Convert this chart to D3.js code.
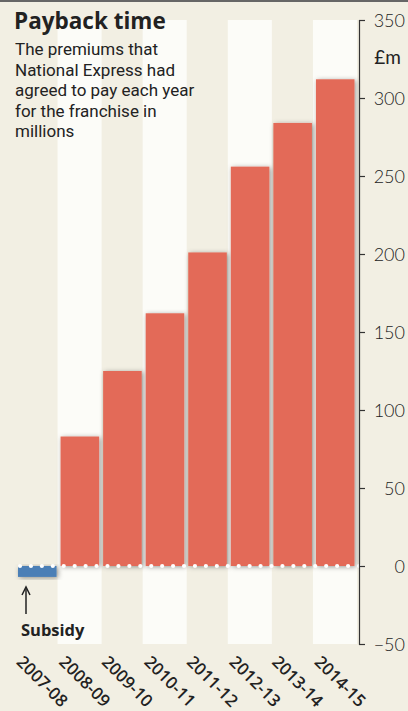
<!DOCTYPE html>
<html>
<head>
<meta charset="utf-8">
<script src="https://cdnjs.cloudflare.com/ajax/libs/d3/7.8.5/d3.min.js"></script>
<style>
  html, body { margin: 0; padding: 0; background: #f2efe3; }
  svg { display: block; }
  text { font-family: "Open Sans", "Noto Sans", sans-serif; fill: #222; }
</style>
</head>
<body>
<div id="chart"></div>
<script>
const categories = ["2007-08", "2008-09", "2009-10", "2010-11", "2011-12", "2012-13", "2013-14", "2014-15"];
const premiums = [-7, 83, 125, 162, 201, 256, 284, 312];
const yTicks = [350, 300, 250, 200, 150, 100, 50, 0, -50];
const subtitleLines = ["The premiums that", "National Express had", "agreed to pay each year", "for the franchise in", "millions"];

const width = 408, height = 711;

const svg = d3.select("#chart")
    .append("svg")
    .attr("width", width)
    .attr("height", height);

svg.append("rect")
    .attr("width", width)
    .attr("height", height)
    .attr("fill", "#f2efe3");

svg.append("rect")
    .attr("width", width)
    .attr("height", 2)
    .attr("fill", "#666");

const defs = svg.append("defs");
defs.append("filter")
    .attr("id", "shadow")
    .attr("x", "-30%").attr("y", "-10%")
    .attr("width", "160%").attr("height", "130%")
    .append("feDropShadow")
    .attr("dx", 1.5).attr("dy", 1)
    .attr("stdDeviation", 2.5)
    .attr("flood-color", "#000")
    .attr("flood-opacity", 0.4);

const x = d3.scaleBand()
    .domain(categories)
    .range([15.5, 356])
    .padding(0);

const y = d3.scaleLinear()
    .domain([-50, 350])
    .range([644, 20]);

// alternate light stripes
svg.selectAll(".stripe")
    .data(categories.filter((d, i) => i % 2 === 1))
    .enter()
    .append("rect")
    .attr("class", "stripe")
    .attr("x", d => x(d) - 0.5)
    .attr("y", y(350))
    .attr("width", x.bandwidth() + 1.5)
    .attr("height", y(-50) - y(350))
    .attr("fill", "#fcfcf8");

// bars
svg.selectAll(".bar")
    .data(categories.map((c, i) => ({ cat: c, val: premiums[i] })))
    .enter()
    .append("rect")
    .attr("class", "bar")
    .attr("x", d => x(d.cat) + 2.5)
    .attr("y", d => y(Math.max(0, d.val)))
    .attr("width", x.bandwidth() - 4)
    .attr("height", d => Math.abs(y(d.val) - y(0)))
    .attr("fill", d => d.val < 0 ? "#4c7fb6" : "#e36b59")
    .attr("filter", "url(#shadow)");

// dotted zero line
const dotStep = (359 - 20) / 31;
svg.selectAll(".dot")
    .data(d3.range(32))
    .enter()
    .append("circle")
    .attr("class", "dot")
    .attr("cx", i => 20 + i * dotStep)
    .attr("cy", y(0))
    .attr("r", 2.1)
    .attr("fill", "#fff");

// y axis on the right
const yAxis = svg.append("g")
    .attr("transform", "translate(359,0)")
    .call(d3.axisRight(y).tickValues(yTicks).tickSize(6).tickSizeOuter(6).tickFormat(d3.format("d")));

yAxis.select(".domain").attr("stroke", "#333").attr("stroke-width", 1.2);
yAxis.selectAll(".tick line").attr("stroke", "#333").attr("stroke-width", 1.2);
yAxis.selectAll(".tick text")
    .attr("x", 46)
    .attr("dy", "0.36em")
    .attr("text-anchor", "end")
    .style("font-size", "18px")
    .style("font-weight", 300)
    .style("font-family", "Lato, 'Open Sans', sans-serif")
    .attr("fill", "#222");

svg.append("text")
    .attr("x", 401)
    .attr("y", 64)
    .attr("text-anchor", "end")
    .style("font-size", "19px")
    .style("font-family", "Lato, 'Open Sans', sans-serif")
    .text("£m");

// category labels
svg.selectAll(".cat")
    .data(categories)
    .enter()
    .append("text")
    .attr("class", "cat")
    .attr("transform", d => `translate(${x(d) + 0},663) rotate(45)`)
    .style("font-size", "17px")
    .style("font-weight", 600)
    .text(d => d);

// title + subtitle
svg.append("text")
    .attr("x", 14)
    .attr("y", 29)
    .style("font-size", "22.5px")
    .style("font-weight", 700)
    .text("Payback time");

svg.append("g")
    .selectAll("text")
    .data(subtitleLines)
    .enter()
    .append("text")
    .attr("x", 15)
    .attr("y", (d, i) => 55 + i * 20.5)
    .style("font-size", "17px")
    .style("font-family", "Roboto, 'Open Sans', sans-serif")
    .text(d => d);

// subsidy annotation
const ax = 26;
svg.append("line")
    .attr("x1", ax).attr("x2", ax)
    .attr("y1", 589).attr("y2", 614)
    .attr("stroke", "#222")
    .attr("stroke-width", 1.5);
svg.append("path")
    .attr("d", `M${ax - 4},${595} L${ax},${587} L${ax + 4},${595}`)
    .attr("fill", "none")
    .attr("stroke", "#222")
    .attr("stroke-width", 1.5);

svg.append("text")
    .attr("x", 21)
    .attr("y", 636)
    .style("font-size", "16.5px")
    .style("font-weight", 700)
    .text("Subsidy");
</script>
</body>
</html>
